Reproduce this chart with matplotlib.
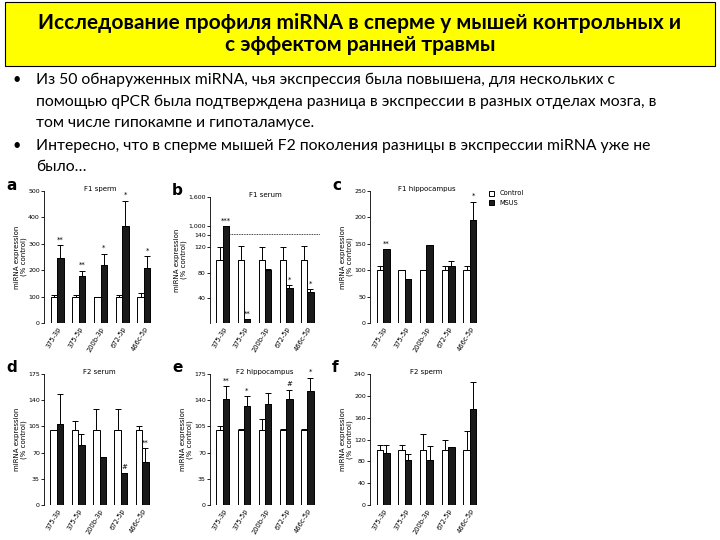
import matplotlib
matplotlib.use("Agg")
import matplotlib.pyplot as plt
import numpy as np
from matplotlib.patches import Rectangle

labels = ["375-3p", "375-5p", "200b-3p", "672-5p", "466c-5p"]

a_ctrl = [100, 100, 100, 100, 100]; a_ctrl_err = [5, 5, 0, 5, 15]
a_msus = [245, 178, 218, 368, 208]; a_msus_err = [50, 20, 45, 95, 45]
a_stars = ["**", "**", "*", "*", "*"]

b_ctrl = [100, 100, 100, 100, 100]; b_ctrl_err = [20, 22, 20, 20, 22]
b_msus = [1000, 6, 84, 56, 50]; b_msus_err = [0, 0, 2, 4, 4]
b_stars = ["***", "**", "", "*", "*"]

c_ctrl = [100, 100, 100, 100, 100]; c_ctrl_err = [8, 0, 0, 8, 8]
c_msus = [140, 83, 148, 108, 195]; c_msus_err = [0, 0, 0, 10, 35]
c_stars = ["**", "", "", "", "*"]

d_ctrl = [100, 100, 100, 100, 100]; d_ctrl_err = [0, 12, 28, 28, 5]
d_msus = [108, 80, 64, 43, 58]; d_msus_err = [40, 15, 0, 0, 18]
d_stars = ["", "", "", "#", "**"]

e_ctrl = [100, 100, 100, 100, 100]; e_ctrl_err = [5, 2, 15, 2, 2]
e_msus = [142, 132, 135, 141, 152]; e_msus_err = [17, 13, 15, 13, 18]
e_stars = ["**", "*", "", "#", "*"]

f_ctrl = [100, 100, 100, 100, 100]; f_ctrl_err = [10, 10, 30, 20, 35]
f_msus = [95, 82, 83, 107, 176]; f_msus_err = [15, 12, 25, 0, 50]

W, H = 720, 540
fig = plt.figure(figsize=(7.2, 5.4), dpi=100)
fig.patch.set_facecolor("white")

fig.patches.append(Rectangle((5 / W, 1 - 66 / H), 710 / W, 64 / H, transform=fig.transFigure,
                             facecolor="#ffff00", edgecolor="black", lw=0.8))
fig.text(0.5, 1 - 34 / H, "Исследование профиля miRNA в сперме у мышей контрольных и\nс эффектом ранней травмы",
         ha="center", va="center", fontsize=15, fontweight="bold", linespacing=1.15, family="Lato")

bullets = [
    ("•", "Из 50 обнаруженных miRNA, чья экспрессия была повышена, для нескольких с", 80),
    ("", "помощью qPCR была подтверждена разница в экспрессии в разных отделах мозга, в", 102),
    ("", "том числе гипокампе и гипоталамусе.", 123),
    ("•", "Интересно, что в сперме мышей F2 поколения разницы в экспрессии miRNA уже не", 146),
    ("", "было…", 167),
]
for b, t, y in bullets:
    if b:
        fig.text(12 / W, 1 - y / H, b, fontsize=10.5, va="center", family="Lato")
    fig.text(36 / W, 1 - y / H, t, fontsize=11.3, va="center", family="Lato")


def panel(letter, title, x0, x1, ytop, ybot, ctrl, cerr, msus, merr, stars, ylim, yticks,
          yticklabels=None, tf=None, legend=False):
    ax = fig.add_axes([x0 / W, 1 - ybot / H, (x1 - x0) / W, (ybot - ytop) / H])
    tf = tf or (lambda v: v)
    x = np.arange(len(labels))
    w = 0.3
    cv = [tf(v) for v in ctrl]; mv = [tf(v) for v in msus]
    ax.bar(x - w / 2, cv, w, color="white", edgecolor="black", lw=0.7, label="Control")
    ax.bar(x + w / 2, mv, w, color="#1a1a1a", edgecolor="black", lw=0.7, label="MSUS")
    ax.errorbar(x - w / 2, cv, yerr=[np.zeros(5), cerr], fmt="none", ecolor="black", elinewidth=0.7, capsize=2, capthick=0.7)
    ax.errorbar(x + w / 2, mv, yerr=[np.zeros(5), merr], fmt="none", ecolor="black", elinewidth=0.7, capsize=2, capthick=0.7)
    for i, s in enumerate(stars):
        if s:
            ax.text(x[i] + w / 2, mv[i] + merr[i] + ylim[1] * 0.02, s, ha="center", va="bottom", fontsize=5)
    ax.set_ylim(*ylim)
    ax.set_xlim(-0.6, 4.6)
    ax.set_yticks(yticks)
    if yticklabels:
        ax.set_yticklabels(yticklabels)
    ax.tick_params(axis="y", labelsize=4.5, length=2, width=0.6, pad=1)
    ax.set_xticks(x)
    ax.set_xticklabels(labels, rotation=60, ha="right", rotation_mode="anchor", fontsize=4.8)
    ax.tick_params(axis="x", length=0, pad=2)
    for s in ["top", "right", "bottom"]:
        ax.spines[s].set_visible(False)
    ax.spines["left"].set_linewidth(0.6)
    ax.set_title(title, fontsize=5, pad=2, y=0.98)
    ax.set_ylabel("miRNA expression\n(% control)", fontsize=5, labelpad=1, linespacing=1.0)
    fig.text((x0 - 38) / W, 1 - (ytop - 6) / H, letter, fontsize=11, fontweight="bold", va="center")
    if legend:
        ax.legend(loc="upper left", bbox_to_anchor=(1.0, 1.05), fontsize=4.8, frameon=False,
                  handlelength=0.8, handleheight=0.8)
    return ax


panel("a", "F1 sperm", 44, 157, 191, 323, a_ctrl, a_ctrl_err, a_msus, a_msus_err, a_stars,
      (0, 500), [0, 100, 200, 300, 400, 500])


def brk(v):
    return v if v <= 140 else 140 + (v - 140) * 14 / 860


axb = panel("b", "F1 serum", 210, 320, 197, 323, b_ctrl, b_ctrl_err, b_msus, b_msus_err, b_stars,
            (0, 200), [40, 80, 120, 140, 154, 200], ["40", "80", "120", "140", "1,000", "1,600"], tf=brk)
axb.axhline(142, xmin=0.18, xmax=1.0, color="black", lw=0.6, ls=(0, (1, 1)))

panel("c", "F1 hippocampus", 370, 483, 191, 323, c_ctrl, c_ctrl_err, c_msus, c_msus_err, c_stars,
      (0, 250), [0, 50, 100, 150, 200, 250], legend=True)

panel("d", "F2 serum", 44, 155, 374, 505, d_ctrl, d_ctrl_err, d_msus, d_msus_err, d_stars,
      (0, 175), [0, 35, 70, 105, 140, 175])
panel("e", "F2 hippocampus", 210, 320, 374, 505, e_ctrl, e_ctrl_err, e_msus, e_msus_err, e_stars,
      (0, 175), [0, 35, 70, 105, 140, 175])
panel("f", "F2 sperm", 370, 483, 374, 505, f_ctrl, f_ctrl_err, f_msus, f_msus_err, [""] * 5,
      (0, 240), [0, 40, 80, 120, 160, 200, 240])

fig.savefig("out.png", dpi=100)
